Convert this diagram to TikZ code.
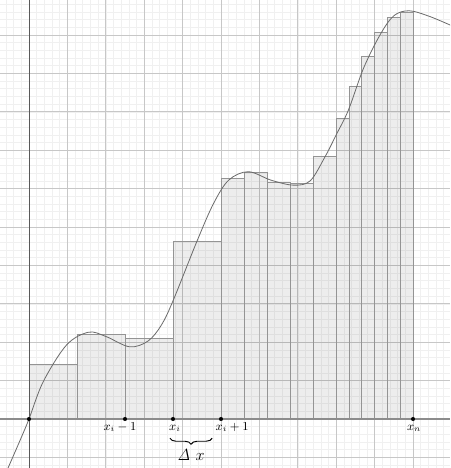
\documentclass[tikz,border=0pt]{standalone}
\usetikzlibrary{decorations.pathreplacing}
\begin{document}
\begin{tikzpicture}[
  minorgrid/.style={draw=black!6, line width=0.4pt},
  majorgrid/.style={draw=black!22, line width=0.5pt},
  xaxis/.style={draw=black!45, line width=0.8pt},
  yaxis/.style={draw=black!65, line width=0.6pt},
  bar/.style={draw=black!42, line width=0.6pt, fill=black, fill opacity=0.07},
  curve/.style={draw=black!58, line width=0.6pt},
  dot/.style={circle, fill=black, inner sep=0pt, minimum size=3pt},
  lbl/.style={anchor=base, inner sep=0pt, font=\small},
  bracestyle/.style={draw=black, line width=0.7pt, decorate, decoration={brace, mirror, amplitude=4.5pt}}
]
\useasboundingbox (-0.755,-1.276) rectangle (10.964,10.911);
\clip (-0.755,-1.276) rectangle (10.964,10.911);
% grid
\draw[minorgrid] (-0.755,-1.276) grid[step=0.2] (10.964,10.911);
\draw[majorgrid] (-0.755,-1.276) grid[step=1] (10.964,10.911);
% rectangles
\foreach \a/\b/\h in {0/1.25/1.43, 1.25/2.5/2.19, 2.5/3.75/2.11, 3.75/5/4.63,
  5/5.6/6.27, 5.6/6.2/6.42, 6.2/6.8/6.16, 6.8/7.4/6.13, 7.4/8/6.83,
  8/8.333/7.83, 8.333/8.667/8.65, 8.667/9/9.43, 9/9.333/10.06,
  9.333/9.667/10.47, 9.667/10/10.6}
  \draw[bar] (\a,0) rectangle (\b,\h);
% axes
\draw[xaxis] (-0.755,0) -- (10.964,0);
\draw[yaxis] (0,-1.276) -- (0,10.911);
% curve
\draw[curve] plot[smooth, tension=0.55] coordinates {
 (-0.6,-1.4) (-0.23,-0.55) (0,0) (0.37,0.97) (0.98,1.93) (1.55,2.26)
 (2.0,2.15) (2.62,1.88) (3.1,2.03) (3.45,2.45) (3.76,3.1) (4.37,4.62)
 (4.8,5.6) (5.2,6.22) (5.71,6.44) (6.3,6.22) (6.88,6.09) (7.32,6.2)
 (7.71,6.83) (8.0,7.4) (8.32,8.05) (8.71,9.13) (9.14,10.0) (9.5,10.5)
 (9.9,10.63) (10.44,10.48) (11.1,10.2)};
% points
\node[dot] (p0) at (0,0) {};
\node[dot] (pim) at (2.5,0) {};
\node[dot] (pi) at (3.75,0) {};
\node[dot] (pip) at (5,0) {};
\node[dot] (pn) at (10,0) {};
% labels
\node[lbl] (lim) at (2.37,-0.29) {$x_i-1$};
\node[lbl] (li) at (3.8,-0.29) {$x_i$};
\node[lbl] (lip) at (5.29,-0.29) {$x_i+1$};
\node[lbl] (ln) at (10.03,-0.29) {$x_n$};
% brace
\coordinate (bl) at (3.67,-0.5);
\coordinate (br) at (4.77,-0.5);
\draw[bracestyle] (bl) -- (br);
\node[anchor=base, inner sep=0pt, font=\large] (dx) at (4.22,-1.07) {$\mathit{\Delta}\ x$};
\end{tikzpicture}
\end{document}
